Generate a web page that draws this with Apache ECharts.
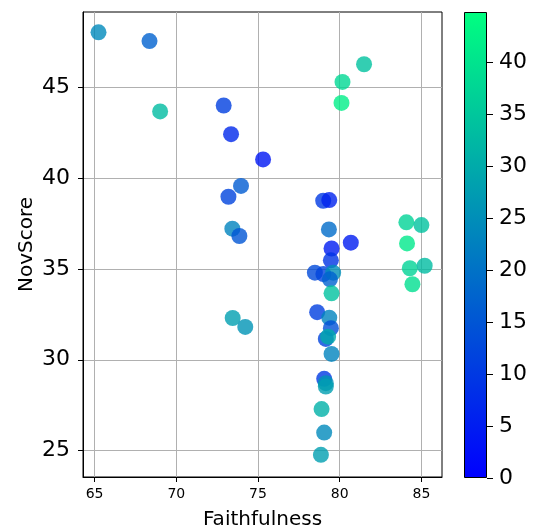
<!DOCTYPE html>
<html>
<head>
<meta charset="utf-8">
<script src="https://cdn.jsdelivr.net/npm/echarts@6/dist/echarts.min.js"></script>
<style>
html,body{margin:0;padding:0;background:#fff;}
#chart{width:537px;height:529px;}
</style>
</head>
<body>
<div id="chart"></div>
<script>
// Data
var faithfulness = [65.24, 68.36, 69.01, 72.90, 73.35, 75.31, 73.96, 73.19, 80.17, 81.49, 80.11,
  78.99, 79.36, 84.08, 85.00, 79.34, 73.43, 73.86, 80.68, 84.12, 79.50, 79.46, 84.29, 85.20, 84.45,
  78.48, 79.00, 79.60, 79.40, 79.50, 73.45, 74.22, 78.62, 79.36, 79.46, 79.15, 79.29, 79.50,
  79.05, 79.15, 79.15, 78.89, 79.05, 78.85];
var novScore = [48.04, 47.56, 43.68, 44.01, 42.43, 41.04, 39.58, 38.98, 45.31, 46.28, 44.15,
  38.76, 38.80, 37.57, 37.42, 37.18, 37.22, 36.82, 36.45, 36.41, 36.13, 35.48, 35.04, 35.18, 34.16,
  34.80, 34.72, 34.80, 34.43, 33.66, 32.30, 31.81, 32.62, 32.32, 31.74, 31.15, 31.27, 30.32,
  28.95, 28.71, 28.52, 27.28, 25.99, 24.76];
var colorValue = [24, 17, 33, 11, 7, 4, 16, 12, 38, 34, 42,
  10, 6, 37, 34, 19, 23, 15, 5, 41, 5, 9, 37, 33, 39,
  13, 12, 25, 17, 34, 28, 26, 11, 23, 14, 12, 30, 23,
  10, 26, 28, 31, 24, 28];
var xTicks = [65, 70, 75, 80, 85];
var yTicks = [25, 30, 35, 40, 45];
var colorTicks = [0, 5, 10, 15, 20, 25, 30, 35, 40];
var xRange = [64.29, 86.26];
var yRange = [23.54, 49.16];
var colorRange = [0, 44.8];

var points = faithfulness.map(function (x, i) { return [x, novScore[i], colorValue[i]]; });

var chart = echarts.init(document.getElementById('chart'), null, {renderer: 'canvas'});
var font = 'DejaVu Sans';
chart.setOption({
  animation: false,
  backgroundColor: '#fff',
  textStyle: {fontFamily: font},
  grid: [
    {left: 83, top: 12, width: 359, height: 465, show: true, borderColor: '#000', borderWidth: 1,
     backgroundColor: 'transparent', containLabel: false, outerBoundsMode: 'none'},
    {left: 464, top: 12, width: 23, height: 466, containLabel: false, outerBoundsMode: 'none'}
  ],
  xAxis: [
    {
      type: 'value', gridIndex: 0, min: xRange[0], max: xRange[1],
      name: 'Faithfulness', nameLocation: 'middle', nameGap: 33, nameMoveOverlap: false,
      nameTextStyle: {fontSize: 20, color: '#000', fontFamily: font},
      axisLine: {show: true, lineStyle: {color: '#000', width: 1}},
      axisTick: {show: true, inside: false, length: 5, lineStyle: {color: '#000'}, customValues: xTicks},
      axisLabel: {fontSize: 14, color: '#000', margin: 10, fontFamily: font, customValues: xTicks},
      splitLine: {show: true, lineStyle: {color: '#b0b0b0', width: 1}}
    },
    {
      type: 'category', gridIndex: 1, data: [''], show: false, boundaryGap: true
    }
  ],
  yAxis: [
    {
      type: 'value', gridIndex: 0, min: yRange[0], max: yRange[1],
      name: 'NovScore', nameLocation: 'middle', nameGap: 46, nameMoveOverlap: false,
      nameTextStyle: {fontSize: 20, color: '#000', fontFamily: font},
      axisLine: {show: true, lineStyle: {color: '#000', width: 1}},
      axisTick: {show: true, inside: false, length: 5, lineStyle: {color: '#000'}, customValues: yTicks},
      axisLabel: {fontSize: 22, color: '#000', margin: 13, fontFamily: font, customValues: yTicks},
      splitLine: {show: true, lineStyle: {color: '#b0b0b0', width: 1}}
    },
    {
      type: 'value', gridIndex: 1, position: 'right', min: colorRange[0], max: colorRange[1],
      axisLine: {show: false},
      axisTick: {show: true, inside: false, length: 6, lineStyle: {color: '#000'}, customValues: colorTicks},
      axisLabel: {fontSize: 22, color: '#000', margin: 12, fontFamily: font, customValues: colorTicks},
      splitLine: {show: false}
    }
  ],
  visualMap: {
    type: 'continuous', show: false, min: colorRange[0], max: colorRange[1],
    dimension: 2, seriesIndex: 0,
    inRange: {color: ['#0000ff', '#00ff80']}
  },
  series: [
    {
      type: 'scatter', xAxisIndex: 0, yAxisIndex: 0,
      data: points, symbolSize: 16,
      itemStyle: {opacity: 0.8}
    },
    {
      type: 'bar', xAxisIndex: 1, yAxisIndex: 1,
      data: [colorRange[1]], barWidth: '100%',
      itemStyle: {
        color: new echarts.graphic.LinearGradient(0, 0, 0, 1, [
          {offset: 0, color: '#00ff80'}, {offset: 1, color: '#0000ff'}
        ]),
        borderColor: '#000', borderWidth: 1
      },
      silent: true
    }
  ]
});
</script>
</body>
</html>
